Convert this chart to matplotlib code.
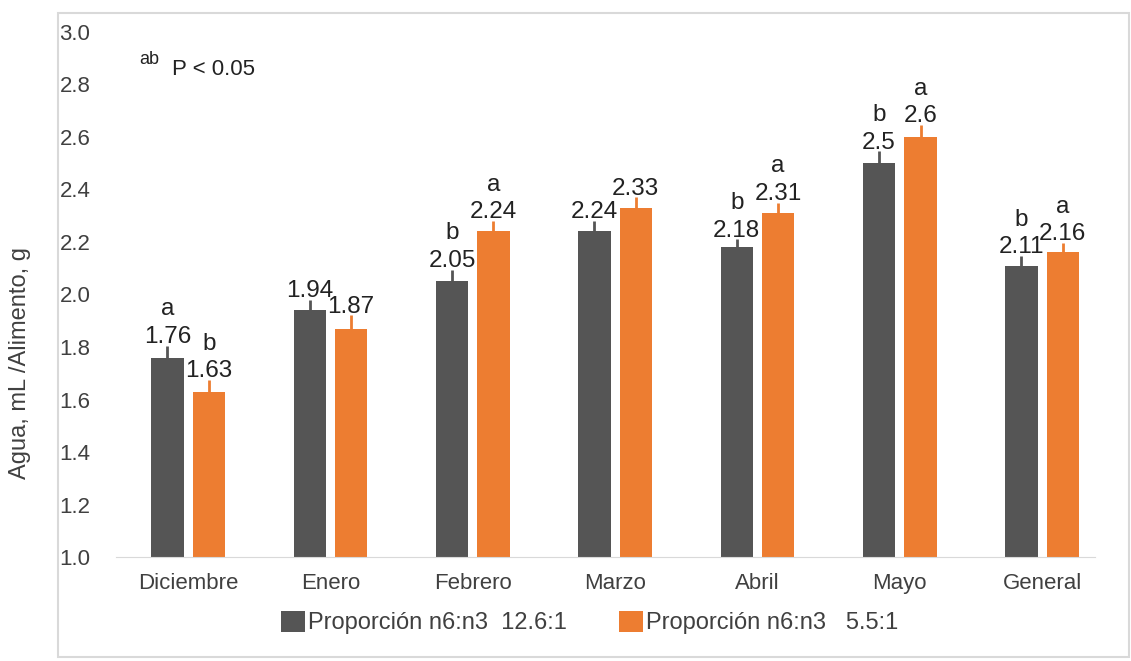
import numpy as np
import matplotlib.pyplot as plt

plt.rcParams['font.family'] = ['Liberation Sans', 'DejaVu Sans']

meses = ['Diciembre', 'Enero', 'Febrero', 'Marzo', 'Abril', 'Mayo', 'General']
prop_126 = [1.76, 1.94, 2.05, 2.24, 2.18, 2.50, 2.11]
prop_55 = [1.63, 1.87, 2.24, 2.33, 2.31, 2.60, 2.16]
err_126 = [0.045, 0.04, 0.045, 0.04, 0.03, 0.045, 0.037]
err_55 = [0.045, 0.05, 0.04, 0.04, 0.04, 0.045, 0.036]
letras_126 = ['a', '', 'b', '', 'b', 'b', 'b']
letras_55 = ['b', '', 'a', '', 'a', 'a', 'a']
etiq_126 = ['1.76', '1.94', '2.05', '2.24', '2.18', '2.5', '2.11']
etiq_55 = ['1.63', '1.87', '2.24', '2.33', '2.31', '2.6', '2.16']

gris = '#555555'
naranja = '#ED7D31'
txt = '#404040'

fig = plt.figure(figsize=(11.31, 6.61), dpi=100)
# marco gris claro alrededor del grafico
fig.patches.append(plt.Rectangle((0.051, 0.006), 0.947, 0.974, transform=fig.transFigure,
                                 fill=False, edgecolor='#d9d9d9', linewidth=1.5))
ax = fig.add_axes([0.103, 0.157, 0.865, 0.795])

x = np.arange(len(meses))
w = 0.227
sep = 0.032
x1 = x - w / 2 - sep
x2 = x + w / 2 + sep
ax.bar(x1, prop_126, w, color=gris, label='Proporción n6:n3  12.6:1')
ax.bar(x2, prop_55, w, color=naranja, label='Proporción n6:n3   5.5:1')
ax.errorbar(x1, prop_126, yerr=[np.zeros(len(x)), err_126], fmt='none',
            ecolor=gris, elinewidth=2, capsize=0)
ax.errorbar(x2, prop_55, yerr=[np.zeros(len(x)), err_55], fmt='none',
            ecolor=naranja, elinewidth=2, capsize=0)

# valor y letra de significancia sobre cada barra
for xs, vals, errs, etqs, lets in [(x1, prop_126, err_126, etiq_126, letras_126),
                                    (x2, prop_55, err_55, etiq_55, letras_55)]:
    for xi, v, e, et, le in zip(xs, vals, errs, etqs, lets):
        ax.text(xi, v + e + 0.01, et, ha='center', va='baseline', fontsize=17.5, color='#222222')
        if le:
            ax.text(xi, v + e + 0.115, le, ha='center', va='baseline', fontsize=17.5,
                    color='#222222')

ax.set_ylim(1.0, 3.0)
ax.set_xlim(-0.503, 6.37)
ticks_y = np.arange(1.0, 3.01, 0.2)
ax.set_yticks(ticks_y)
ax.set_yticklabels([f'{v:.1f}' for v in ticks_y])
ax.set_xticks(x)
ax.set_xticklabels(meses)
ax.tick_params(axis='both', length=0, labelsize=16, colors=txt)
ax.tick_params(axis='y', pad=41)
for lab in ax.get_yticklabels():
    lab.set_horizontalalignment('left')
ax.tick_params(axis='x', pad=11)
for s in ['top', 'right', 'left']:
    ax.spines[s].set_visible(False)
ax.spines['bottom'].set_color('#d9d9d9')
ax.set_ylabel('Agua, mL /Alimento, g', fontsize=17, color=txt)
ax.yaxis.set_label_coords(-0.087, 0.37)

ax.text(0.0235, 0.947, 'ab', transform=ax.transAxes, fontsize=13, color='#222222', va='center')
ax.text(0.057, 0.928, 'P < 0.05', transform=ax.transAxes, fontsize=16, color='#222222',
        va='center')

ax.legend(loc='center', bbox_to_anchor=(0.484, -0.124), ncol=2, frameon=False,
          fontsize=17, handlelength=1.0, handleheight=1.0, handletextpad=0.15,
          columnspacing=2.2, labelcolor=txt)

fig.savefig('out.png', dpi=100)
